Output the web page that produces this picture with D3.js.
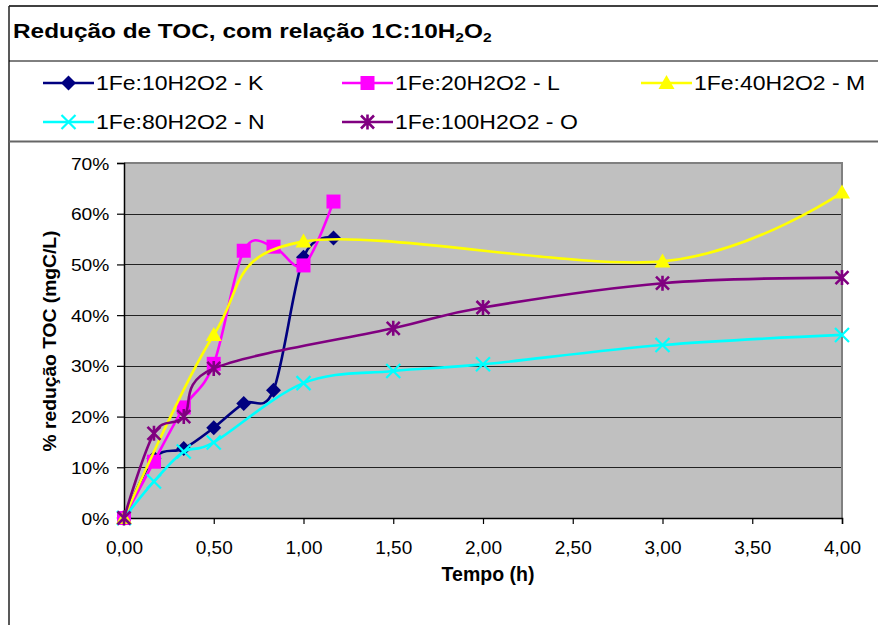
<!DOCTYPE html>
<html>
<head>
<meta charset="utf-8">
<script src="https://cdn.jsdelivr.net/npm/d3@7"></script>
<style>
  html, body { margin: 0; padding: 0; background: #fff; }
  svg { display: block; font-family: "Liberation Sans", Arial, sans-serif; }
</style>
</head>
<body>
<svg id="chart" width="878" height="625"></svg>
<script>
// ---- data ----
const seriesNames = ["1Fe:10H2O2 - K", "1Fe:20H2O2 - L", "1Fe:40H2O2 - M", "1Fe:80H2O2 - N", "1Fe:100H2O2 - O"];
const timeK = [0, 0.167, 0.333, 0.5, 0.667, 0.833, 1.0, 1.167];
const valuesK = [0, 11.8, 13.7, 17.8, 22.6, 25.2, 51.4, 55.2];
const timeL = [0, 0.167, 0.333, 0.5, 0.667, 0.833, 1.0, 1.167];
const valuesL = [0, 11.1, 21.8, 30.4, 52.7, 53.5, 49.8, 62.4];
const timeM = [0, 0.5, 1.0, 3.0, 4.0];
const valuesM = [0, 36.1, 54.5, 50.6, 64.2];
const timeN = [0, 0.167, 0.333, 0.5, 1.0, 1.5, 2.0, 3.0, 4.0];
const valuesN = [0, 7.2, 13.1, 14.9, 26.6, 29.0, 30.3, 34.1, 36.1];
const timeO = [0, 0.167, 0.333, 0.5, 1.5, 2.0, 3.0, 4.0];
const valuesO = [0, 16.7, 20.0, 29.5, 37.4, 41.5, 46.3, 47.4];
const xTicks = [0, 0.5, 1, 1.5, 2, 2.5, 3, 3.5, 4];
const yTicks = [0, 10, 20, 30, 40, 50, 60, 70];
const titleText = "Redução de TOC, com relação 1C:10H";
const xTitle = "Tempo (h)";
const yTitle = "% redução TOC (mgC/L)";

// ---- styles ----
const colors = ["#000080", "#FF00FF", "#FFFF00", "#00FFFF", "#800080"];
const markers = ["diamond", "square", "triangle", "x", "asterisk"];

const svg = d3.select("#chart");
const W = 878, H = 625;
const plot = { left: 124, right: 842, top: 163, bottom: 518 };

const x = d3.scaleLinear().domain([0, 4]).range([plot.left, plot.right]);
const y = d3.scaleLinear().domain([0, 70]).range([plot.bottom, plot.top]);

// ---- frame ----
svg.append("rect").attr("x", 0).attr("y", 0).attr("width", W).attr("height", H).attr("fill", "#fff");
svg.append("line").attr("x1", 9).attr("x2", W).attr("y1", 6).attr("y2", 6).attr("stroke", "#000").attr("stroke-width", 1.5);
svg.append("line").attr("x1", 9).attr("x2", 9).attr("y1", 6).attr("y2", H).attr("stroke", "#222").attr("stroke-width", 1.5);
svg.append("line").attr("x1", 9).attr("x2", W).attr("y1", 61).attr("y2", 61).attr("stroke", "#000").attr("stroke-width", 1);
svg.append("line").attr("x1", 9).attr("x2", W).attr("y1", 141.5).attr("y2", 141.5).attr("stroke", "#666").attr("stroke-width", 2);

// ---- title ----
const title = svg.append("text")
  .attr("transform", "translate(13,38) scale(1.25,1)")
  .attr("font-size", 19.5).attr("font-weight", "bold").attr("fill", "#000");
title.append("tspan").text(titleText);
title.append("tspan").attr("font-size", 12.5).attr("dy", 4).text("2");
title.append("tspan").attr("dy", -4).text("O");
title.append("tspan").attr("font-size", 12.5).attr("dy", 4).text("2");

// ---- plot area ----
svg.append("rect")
  .attr("x", plot.left).attr("y", plot.top)
  .attr("width", plot.right - plot.left).attr("height", plot.bottom - plot.top)
  .attr("fill", "#C0C0C0");

// gridlines
svg.append("g").selectAll("line").data(yTicks.filter(d => d > 0 && d < 70)).join("line")
  .attr("x1", plot.left).attr("x2", plot.right)
  .attr("y1", d => Math.round(y(d)) + 0.5).attr("y2", d => Math.round(y(d)) + 0.5)
  .attr("stroke", "#222").attr("stroke-width", 1.2);

// plot border top & right (gray)
svg.append("line").attr("x1", plot.left).attr("x2", plot.right + 1).attr("y1", plot.top).attr("y2", plot.top)
  .attr("stroke", "#808080").attr("stroke-width", 2);
svg.append("line").attr("x1", plot.right).attr("x2", plot.right).attr("y1", plot.top).attr("y2", plot.bottom)
  .attr("stroke", "#808080").attr("stroke-width", 2);

// axes
const yAxis = d3.axisLeft(y).tickValues(yTicks).tickFormat(d => d + "%").tickSize(7).tickPadding(0);
const gy = svg.append("g").attr("transform", `translate(${plot.left},0)`).call(yAxis);
gy.select(".domain").attr("stroke", "#000").attr("stroke-width", 1.5);
gy.selectAll(".tick line").attr("stroke", "#000").attr("stroke-width", 1.2);
gy.selectAll(".tick text")
  .attr("x", null).attr("dy", null)
  .attr("transform", "translate(-14.7,6) scale(1.2,1)")
  .attr("text-anchor", "end")
  .attr("font-size", 16).attr("font-family", "Liberation Sans, Arial, sans-serif").attr("fill", "#000");

const xAxis = d3.axisBottom(x).tickValues(xTicks).tickFormat(d => d3.format(".2f")(d).replace(".", ",")).tickSize(6).tickPadding(0);
const gx = svg.append("g").attr("transform", `translate(0,${plot.bottom})`).call(xAxis);
gx.select(".domain").attr("stroke", "#000").attr("stroke-width", 1.5);
gx.selectAll(".tick line").attr("stroke", "#000").attr("stroke-width", 1.2);
gx.selectAll(".tick text")
  .attr("y", 36).attr("dy", null)
  .attr("text-anchor", "middle")
  .attr("font-size", 19).attr("font-family", "Liberation Sans, Arial, sans-serif").attr("fill", "#000");

// axis titles
svg.append("text").attr("x", 488).attr("y", 581).attr("text-anchor", "middle")
  .attr("font-size", 19.5).attr("font-weight", "bold").text(xTitle);
svg.append("text").attr("transform", "translate(56,341) rotate(-90) scale(1.1,1)")
  .attr("text-anchor", "middle").attr("font-size", 17.5).attr("font-weight", "bold").text(yTitle);

// ---- markers ----
function drawMarker(g, type, color) {
  if (type === "diamond") {
    g.append("path").attr("d", "M0,-7.5L7.5,0L0,7.5L-7.5,0Z").attr("fill", color);
  } else if (type === "square") {
    g.append("rect").attr("x", -7).attr("y", -7).attr("width", 14).attr("height", 14).attr("fill", color);
  } else if (type === "triangle") {
    g.append("path").attr("d", "M0,-8L8,6L-8,6Z").attr("fill", color);
  } else if (type === "x") {
    g.append("path").attr("d", "M-7,-7L7,7M-7,7L7,-7").attr("stroke", color).attr("stroke-width", 2.2).attr("fill", "none");
  } else if (type === "asterisk") {
    g.append("path").attr("d", "M-6.5,-6.5L6.5,6.5M-6.5,6.5L6.5,-6.5M0,-7.5L0,7.5").attr("stroke", color).attr("stroke-width", 2.6).attr("fill", "none");
  }
}

// ---- series ----
const seriesData = [
  { t: timeK, v: valuesK },
  { t: timeL, v: valuesL },
  { t: timeM, v: valuesM },
  { t: timeN, v: valuesN },
  { t: timeO, v: valuesO }
];
const line = d3.line().x(d => x(d[0])).y(d => y(d[1])).curve(d3.curveCardinal.tension(0));

const layer = svg.append("g");
seriesData.forEach((s, i) => {
  const pts = s.t.map((t, j) => [t, s.v[j]]);
  const g = layer.append("g");
  g.append("path").datum(pts).attr("d", line)
    .attr("fill", "none").attr("stroke", colors[i]).attr("stroke-width", 2.6).attr("stroke-linejoin", "round");
  pts.forEach(p => {
    const mg = g.append("g").attr("transform", `translate(${x(p[0])},${y(p[1])})`);
    drawMarker(mg, markers[i], colors[i]);
  });
});

// ---- legend ----
const legendPos = [
  { lx: 43, ly: 83 }, { lx: 342, ly: 83 }, { lx: 641, ly: 83 },
  { lx: 43, ly: 122 }, { lx: 342, ly: 122 }
];
seriesNames.forEach((name, i) => {
  const p = legendPos[i];
  const g = svg.append("g").attr("transform", `translate(${p.lx},${p.ly})`);
  g.append("line").attr("x1", 0).attr("x2", 51).attr("y1", 0).attr("y2", 0)
    .attr("stroke", colors[i]).attr("stroke-width", 2.6);
  const mg = g.append("g").attr("transform", "translate(25.5,0)");
  drawMarker(mg, markers[i], colors[i]);
  g.append("text").attr("transform", "translate(53,7) scale(1.18,1)")
    .attr("font-size", 19.5).attr("fill", "#000").text(name);
});
</script>
</body>
</html>
